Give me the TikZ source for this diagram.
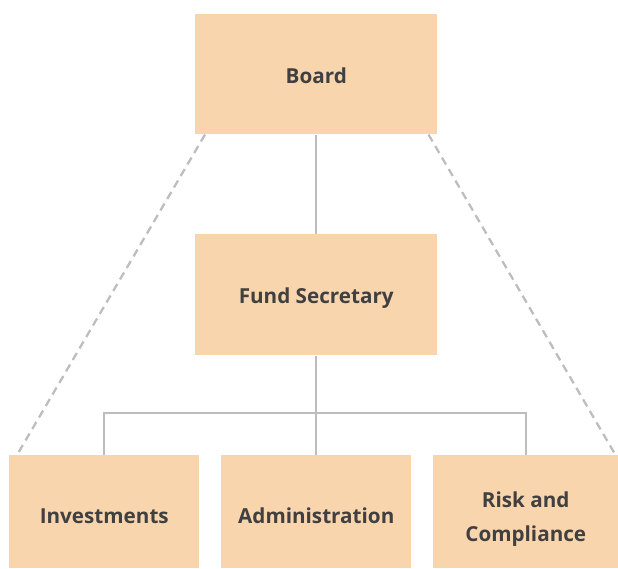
\documentclass[tikz,border=0pt]{standalone}
\usepackage{fontspec}
\setmainfont{Open Sans}
\usetikzlibrary{calc}
\definecolor{boxfill}{HTML}{F9D5AE}
\definecolor{linegray}{HTML}{BDBDC0}
\definecolor{textgray}{HTML}{404040}
\tikzset{
  unit/.style={rectangle, fill=boxfill, anchor=north west, inner sep=0pt},
  unittext/.style={inner sep=0pt, align=center, text=textgray,
    font=\fontsize{15.5}{25}\selectfont\bfseries},
  conn/.style={draw=linegray, line width=1.7pt},
  guide/.style={draw=linegray, line width=1.7pt, dash pattern=on 6pt off 4pt}
}
\begin{document}
\begin{tikzpicture}[x=0.75pt,y=-0.75pt]
    \useasboundingbox (0,0) rectangle (618,568);

    \node (board) at (195,14) [unit,minimum width=242*0.75pt,minimum height=120*0.75pt,
      label={[unittext,yshift=-0.8pt]center:Board}] {};
    \node (fund) at (195,234) [unit,minimum width=242*0.75pt,minimum height=121*0.75pt,
      label={[unittext,yshift=-2.2pt]center:Fund Secretary}] {};
    \node (inv) at (9,455) [unit,minimum width=190*0.75pt,minimum height=113*0.75pt,
      label={[unittext,yshift=-3pt]center:Investments}] {};
    \node (admin) at (221,455) [unit,minimum width=190*0.75pt,minimum height=113*0.75pt,
      label={[unittext,yshift=-3pt]center:Administration}] {};
    \node (risk) at (433,455) [unit,minimum width=185*0.75pt,minimum height=113*0.75pt,
      label={[unittext,yshift=-5.5pt]center:Risk and\\Compliance}] {};

    \coordinate (hub) at (316,413);

    \draw[conn] (board) -- (fund);
    \draw[conn] (fund) -- (admin);
    \draw[conn] (inv.north) |- (hub) -| (risk.north);

    % dashed lines from board to outer units
    \draw[guide] ($(board.south west)+(10,0)$) -- ($(inv.north west)+(8,0)$);
    \draw[guide] ($(board.south east)+(-9,0)$) -- ($(risk.north east)+(-3,0)$);
\end{tikzpicture}
\end{document}
